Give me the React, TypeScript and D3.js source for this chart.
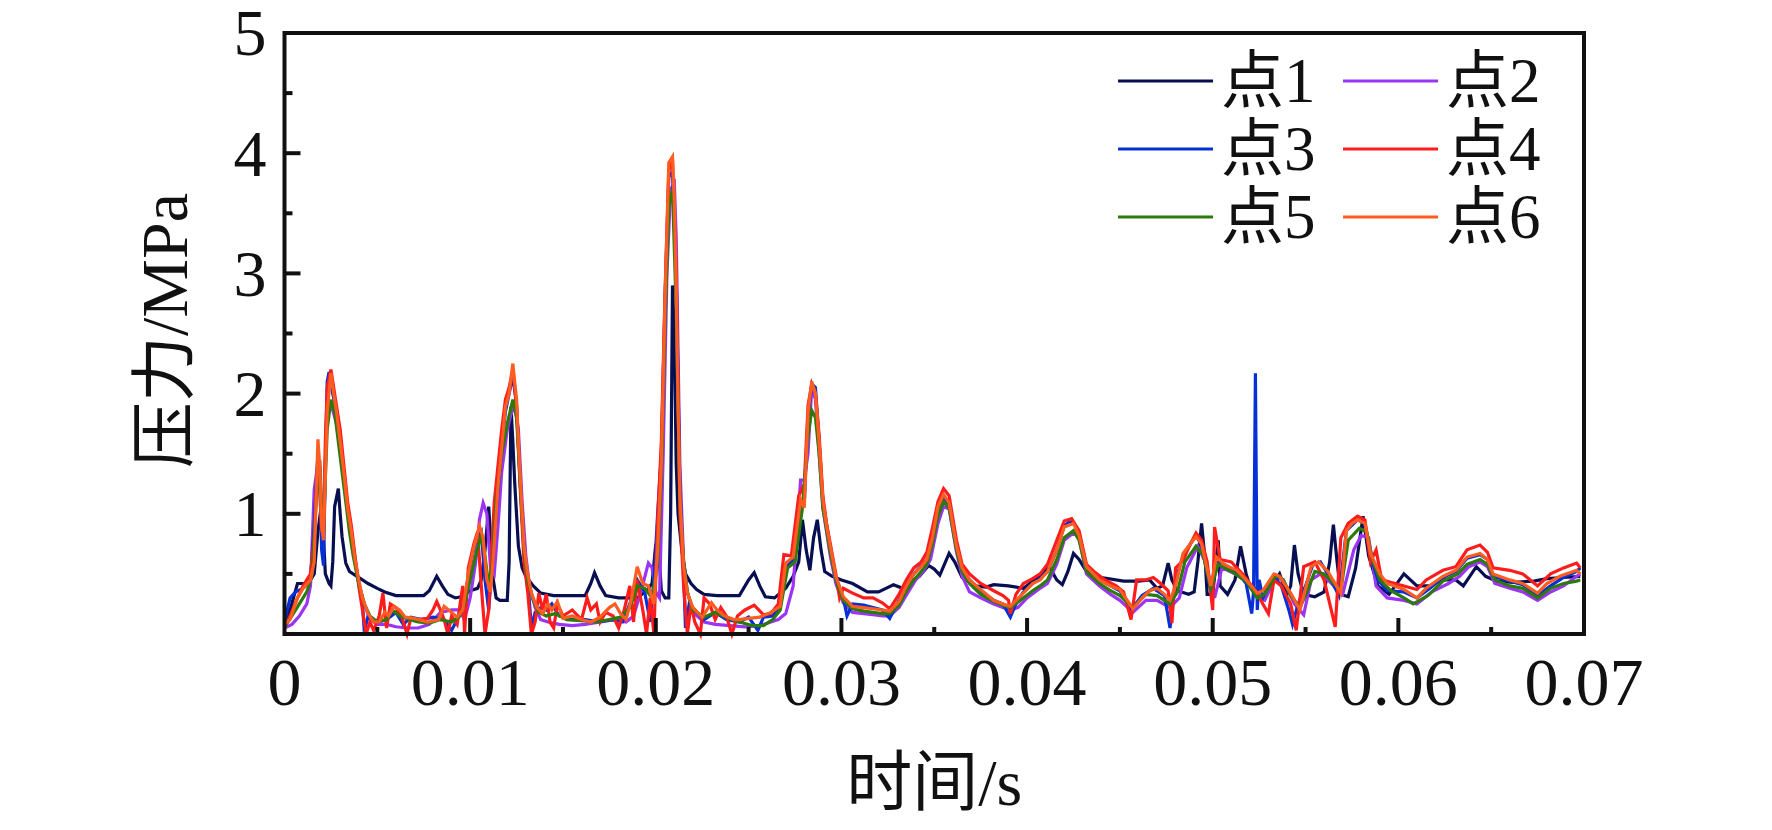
import { useEffect, useRef } from 'react'
import * as d3 from 'd3'

type Pt = [number, number]

const seriesNames = ['点1', '点2', '点3', '点4', '点5', '点6']
const seriesColors = ['#070f52', '#9b34f5', '#0530d6', '#ff1c1c', '#2b7a0b', '#ff5c22']
const xTicks = [0, 0.01, 0.02, 0.03, 0.04, 0.05, 0.06, 0.07]
const yTicks = [1, 2, 3, 4, 5]
const xTitle = '时间/s'
const yTitle = '压力/MPa'

// 点1
const p1: Pt[] = [
  [0, 0.10], [0.0003, 0.20], [0.0007, 0.42], [0.0011, 0.42], [0.0014, 0.45], [0.0016, 0.50], [0.0018, 0.85],
  [0.0020, 1.09], [0.0021, 0.80], [0.0022, 0.50], [0.0024, 0.42], [0.0025, 0.40], [0.0026, 0.60], [0.0027, 1.06],
  [0.0029, 1.21], [0.0030, 1.00], [0.0031, 0.81], [0.0033, 0.59], [0.0035, 0.52], [0.0038, 0.49], [0.0042, 0.45],
  [0.0045, 0.42], [0.0050, 0.38], [0.0054, 0.35], [0.0060, 0.32], [0.0067, 0.32], [0.0075, 0.32], [0.0078, 0.36],
  [0.0082, 0.48], [0.0085, 0.40], [0.0088, 0.33], [0.0092, 0.30], [0.0095, 0.31], [0.0100, 0.36], [0.0104, 0.38],
  [0.0106, 0.45], [0.0108, 0.70], [0.0110, 1.06], [0.0111, 0.80], [0.0112, 0.50], [0.0114, 0.30], [0.0116, 0.28],
  [0.0120, 0.28], [0.0121, 0.60], [0.0122, 1.89], [0.0123, 1.60], [0.0124, 1.26], [0.0126, 0.73], [0.0128, 0.55],
  [0.0130, 0.48], [0.0134, 0.40], [0.0138, 0.34], [0.0145, 0.32], [0.0155, 0.32], [0.0162, 0.32], [0.0165, 0.42],
  [0.0167, 0.51], [0.0170, 0.40], [0.0173, 0.32], [0.0180, 0.30], [0.0190, 0.30], [0.0195, 0.36], [0.0198, 0.42],
  [0.0200, 0.75], [0.0202, 0.60], [0.0203, 0.36], [0.0205, 0.30], [0.0207, 0.30], [0.0208, 1.00], [0.0209, 2.90],
  [0.0210, 2.50], [0.0211, 1.42], [0.0212, 1.00], [0.0214, 0.70], [0.0216, 0.50], [0.0219, 0.42], [0.0222, 0.37],
  [0.0226, 0.33], [0.0233, 0.32], [0.0240, 0.32], [0.0245, 0.32], [0.0250, 0.45], [0.0253, 0.51], [0.0256, 0.40],
  [0.0259, 0.31], [0.0264, 0.30], [0.0270, 0.38], [0.0274, 0.48], [0.0277, 0.60], [0.0279, 0.95], [0.0281, 0.70],
  [0.0283, 0.53], [0.0285, 0.80], [0.0287, 0.95], [0.0289, 0.70], [0.0291, 0.52], [0.0295, 0.48], [0.0300, 0.45],
  [0.0306, 0.42], [0.0314, 0.35], [0.0320, 0.35], [0.0324, 0.38], [0.0328, 0.41], [0.0333, 0.38], [0.0338, 0.44],
  [0.0342, 0.48], [0.0347, 0.57], [0.0350, 0.54], [0.0353, 0.49], [0.0358, 0.67], [0.0361, 0.60], [0.0365, 0.47],
  [0.0372, 0.40], [0.0378, 0.39], [0.0382, 0.41], [0.0390, 0.40], [0.0398, 0.38], [0.0404, 0.45], [0.0409, 0.52],
  [0.0412, 0.56], [0.0416, 0.45], [0.0419, 0.41], [0.0422, 0.52], [0.0425, 0.67], [0.0428, 0.62], [0.0432, 0.52],
  [0.0440, 0.47], [0.0452, 0.44], [0.0460, 0.44], [0.0466, 0.45], [0.0470, 0.38], [0.0473, 0.40], [0.0476, 0.59],
  [0.0478, 0.45], [0.0481, 0.36], [0.0487, 0.33], [0.0490, 0.35], [0.0492, 0.60], [0.0494, 0.92], [0.0496, 0.60],
  [0.0497, 0.33], [0.0500, 0.33], [0.0503, 0.78], [0.0504, 0.40], [0.0508, 0.33], [0.0512, 0.45], [0.0515, 0.73],
  [0.0518, 0.50], [0.0520, 0.40], [0.0525, 0.36], [0.0530, 0.36], [0.0536, 0.50], [0.0540, 0.33], [0.0542, 0.40],
  [0.0544, 0.74], [0.0546, 0.50], [0.0549, 0.33], [0.0555, 0.31], [0.0560, 0.35], [0.0563, 0.60], [0.0565, 0.91],
  [0.0567, 0.60], [0.0569, 0.33], [0.0573, 0.31], [0.0577, 0.55], [0.0581, 0.98], [0.0584, 0.65], [0.0589, 0.40],
  [0.0595, 0.33], [0.0603, 0.50], [0.0610, 0.40], [0.0617, 0.40], [0.0624, 0.45], [0.0631, 0.45], [0.0635, 0.40],
  [0.0642, 0.56], [0.0647, 0.48], [0.0653, 0.44], [0.0662, 0.43], [0.0673, 0.44], [0.0680, 0.46], [0.0689, 0.47],
  [0.0698, 0.48],
]

// 点2
const p2: Pt[] = [
  [0, 0.05], [0.0004, 0.08], [0.0008, 0.15], [0.0012, 0.25], [0.0014, 0.40], [0.0016, 1.20], [0.0018, 1.42],
  [0.0019, 1.40], [0.0020, 1.00], [0.0021, 0.78], [0.0023, 1.98], [0.0026, 1.86], [0.0028, 1.75], [0.0030, 1.55],
  [0.0032, 1.30], [0.0034, 1.05], [0.0036, 0.82], [0.0038, 0.60], [0.0040, 0.42], [0.0043, 0.25], [0.0046, 0.12],
  [0.0050, 0.08], [0.0055, 0.08], [0.0060, 0.06], [0.0066, 0.05], [0.0072, 0.05], [0.0078, 0.08], [0.0084, 0.18],
  [0.0090, 0.20], [0.0094, 0.20], [0.0097, 0.12], [0.0100, 0.30], [0.0103, 0.60], [0.0105, 0.95], [0.0107, 1.09],
  [0.0109, 1.00], [0.0111, 0.55], [0.0113, 0.50], [0.0115, 0.90], [0.0117, 1.35], [0.0120, 1.70], [0.0122, 1.83],
  [0.0124, 1.90], [0.0126, 1.70], [0.0128, 1.10], [0.0130, 0.65], [0.0132, 0.40], [0.0135, 0.22], [0.0138, 0.12],
  [0.0142, 0.10], [0.0148, 0.08], [0.0155, 0.07], [0.0162, 0.08], [0.0170, 0.10], [0.0178, 0.12], [0.0184, 0.10],
  [0.0188, 0.15], [0.0192, 0.35], [0.0196, 0.59], [0.0198, 0.55], [0.0200, 0.35], [0.0202, 0.30], [0.0204, 1.50],
  [0.0206, 3.00], [0.0208, 3.70], [0.0210, 3.75], [0.0211, 3.30], [0.0213, 1.40], [0.0215, 0.60], [0.0217, 0.35],
  [0.0220, 0.18], [0.0226, 0.10], [0.0232, 0.08], [0.0240, 0.07], [0.0248, 0.06], [0.0256, 0.07], [0.0262, 0.10],
  [0.0266, 0.12], [0.0270, 0.17], [0.0274, 0.40], [0.0278, 1.28], [0.0280, 1.28], [0.0282, 1.50], [0.0284, 2.05],
  [0.0286, 1.95], [0.0288, 1.50], [0.0290, 1.05], [0.0294, 0.65], [0.0297, 0.42], [0.0301, 0.26], [0.0306, 0.18],
  [0.0312, 0.17], [0.0317, 0.16], [0.0322, 0.15], [0.0326, 0.15], [0.0331, 0.22], [0.0336, 0.35], [0.0340, 0.45],
  [0.0344, 0.52], [0.0348, 0.62], [0.0352, 0.92], [0.0355, 1.06], [0.0358, 1.04], [0.0362, 0.68], [0.0365, 0.48],
  [0.0369, 0.35], [0.0375, 0.30], [0.0382, 0.25], [0.0387, 0.22], [0.0391, 0.20], [0.0395, 0.22], [0.0400, 0.30],
  [0.0407, 0.38], [0.0411, 0.42], [0.0416, 0.58], [0.0420, 0.78], [0.0425, 0.84], [0.0428, 0.80], [0.0432, 0.50],
  [0.0439, 0.40], [0.0445, 0.33], [0.0450, 0.28], [0.0457, 0.18], [0.0464, 0.28], [0.0470, 0.28], [0.0477, 0.22],
  [0.0482, 0.30], [0.0486, 0.55], [0.0492, 0.73], [0.0496, 0.60], [0.0501, 0.30], [0.0505, 0.55], [0.0512, 0.50],
  [0.0518, 0.44], [0.0524, 0.30], [0.0528, 0.28], [0.0534, 0.47], [0.0538, 0.45], [0.0544, 0.25], [0.0549, 0.16],
  [0.0553, 0.45], [0.0558, 0.50], [0.0562, 0.45], [0.0570, 0.33], [0.0576, 0.70], [0.0580, 0.82], [0.0584, 0.80],
  [0.0588, 0.40], [0.0594, 0.30], [0.0603, 0.28], [0.0610, 0.25], [0.0618, 0.35], [0.0627, 0.42], [0.0633, 0.48],
  [0.0638, 0.56], [0.0644, 0.60], [0.0648, 0.56], [0.0652, 0.42], [0.0660, 0.38], [0.0667, 0.35], [0.0675, 0.28],
  [0.0682, 0.35], [0.0689, 0.40], [0.0696, 0.48], [0.0698, 0.50],
]

// 点3
const p3: Pt[] = [
  [0, 0.10], [0.0003, 0.30], [0.0006, 0.35], [0.0010, 0.38], [0.0014, 0.45], [0.0016, 0.90], [0.0018, 1.50],
  [0.0019, 1.30], [0.0020, 0.70], [0.0021, 0.57], [0.0022, 1.40], [0.0023, 2.10], [0.0024, 2.18], [0.0026, 2.00],
  [0.0028, 1.85], [0.0030, 1.60], [0.0032, 1.32], [0.0034, 1.05], [0.0036, 0.85], [0.0038, 0.62], [0.0040, 0.43],
  [0.0042, 0.25], [0.0043, 0.02], [0.0045, 0.15], [0.0050, 0.10], [0.0055, 0.12], [0.0060, 0.18], [0.0064, 0.08],
  [0.0068, 0.14], [0.0074, 0.12], [0.0080, 0.14], [0.0086, 0.12], [0.0090, 0.03], [0.0093, 0.12], [0.0097, 0.30],
  [0.0100, 0.55], [0.0103, 0.78], [0.0106, 0.85], [0.0108, 0.45], [0.0110, 0.20], [0.0112, 0.60], [0.0115, 1.20],
  [0.0117, 1.55], [0.0119, 1.85], [0.0121, 2.00], [0.0123, 2.15], [0.0125, 1.90], [0.0127, 1.25], [0.0129, 0.70],
  [0.0131, 0.45], [0.0133, 0.05], [0.0135, 0.18], [0.0138, 0.22], [0.0141, 0.20], [0.0144, 0.25], [0.0148, 0.15],
  [0.0155, 0.12], [0.0162, 0.12], [0.0170, 0.10], [0.0176, 0.12], [0.0182, 0.10], [0.0186, 0.25], [0.0190, 0.45],
  [0.0194, 0.35], [0.0197, 0.10], [0.0199, 0.45], [0.0201, 1.00], [0.0203, 1.50], [0.0205, 2.80], [0.0207, 3.80],
  [0.0209, 3.85], [0.0211, 2.95], [0.0213, 1.20], [0.0215, 0.50], [0.0216, 0.05], [0.0218, 0.25], [0.0221, 0.20],
  [0.0226, 0.12], [0.0232, 0.18], [0.0238, 0.12], [0.0245, 0.10], [0.0250, 0.14], [0.0255, 0.03], [0.0258, 0.14],
  [0.0263, 0.15], [0.0267, 0.22], [0.0270, 0.55], [0.0274, 0.62], [0.0278, 1.10], [0.0280, 1.10], [0.0282, 1.80],
  [0.0284, 2.08], [0.0286, 2.05], [0.0288, 1.60], [0.0290, 1.10], [0.0294, 0.72], [0.0297, 0.47], [0.0301, 0.30],
  [0.0303, 0.15], [0.0306, 0.25], [0.0312, 0.24], [0.0317, 0.22], [0.0322, 0.20], [0.0326, 0.13], [0.0331, 0.28],
  [0.0335, 0.40], [0.0339, 0.50], [0.0343, 0.57], [0.0346, 0.62], [0.0349, 0.80], [0.0352, 1.05], [0.0355, 1.14],
  [0.0358, 1.08], [0.0362, 0.72], [0.0365, 0.55], [0.0369, 0.45], [0.0375, 0.36], [0.0382, 0.28], [0.0387, 0.25],
  [0.0391, 0.14], [0.0394, 0.25], [0.0398, 0.35], [0.0403, 0.42], [0.0407, 0.46], [0.0411, 0.52], [0.0416, 0.70],
  [0.0420, 0.90], [0.0424, 0.95], [0.0428, 0.84], [0.0432, 0.56], [0.0439, 0.45], [0.0445, 0.40], [0.0450, 0.36],
  [0.0456, 0.20], [0.0462, 0.32], [0.0468, 0.38], [0.0474, 0.32], [0.0477, 0.05], [0.0480, 0.45], [0.0484, 0.65],
  [0.0488, 0.75], [0.0491, 0.82], [0.0494, 0.74], [0.0499, 0.35], [0.0502, 0.62], [0.0508, 0.56], [0.0513, 0.52],
  [0.0518, 0.42], [0.0521, 0.17], [0.0522, 0.35], [0.0523, 2.17], [0.0524, 0.20], [0.0525, 0.45], [0.0527, 0.30],
  [0.0533, 0.48], [0.0537, 0.40], [0.0541, 0.20], [0.0543, 0.08], [0.0546, 0.25], [0.0550, 0.40], [0.0554, 0.58],
  [0.0558, 0.60], [0.0562, 0.50], [0.0568, 0.32], [0.0572, 0.86], [0.0578, 0.95], [0.0582, 0.92], [0.0585, 0.65],
  [0.0589, 0.45], [0.0594, 0.36], [0.0603, 0.35], [0.0610, 0.30], [0.0617, 0.38], [0.0624, 0.47], [0.0631, 0.52],
  [0.0637, 0.63], [0.0644, 0.66], [0.0648, 0.62], [0.0651, 0.48], [0.0660, 0.44], [0.0667, 0.41], [0.0675, 0.32],
  [0.0682, 0.40], [0.0689, 0.47], [0.0696, 0.52], [0.0698, 0.55],
]

// 点4
const p4: Pt[] = [
  [0, 0.05], [0.0003, 0.15], [0.0007, 0.30], [0.0010, 0.40], [0.0014, 0.50], [0.0016, 0.80], [0.0018, 1.45],
  [0.0019, 1.20], [0.0020, 0.85], [0.0021, 0.95], [0.0022, 1.60], [0.0023, 2.05], [0.0025, 2.20], [0.0026, 2.10],
  [0.0028, 1.90], [0.0030, 1.70], [0.0032, 1.40], [0.0034, 1.10], [0.0036, 0.90], [0.0038, 0.65], [0.0040, 0.40],
  [0.0042, 0.20], [0.0044, 0.00], [0.0046, 0.10], [0.0048, 0.03], [0.0051, 0.15], [0.0053, 0.34], [0.0055, 0.05],
  [0.0057, 0.25], [0.0060, 0.22], [0.0063, 0.15], [0.0066, 0.00], [0.0068, 0.13], [0.0072, 0.12], [0.0077, 0.13],
  [0.0080, 0.20], [0.0082, 0.27], [0.0084, 0.20], [0.0086, 0.12], [0.0088, 0.00], [0.0090, 0.15], [0.0093, 0.08],
  [0.0096, 0.40], [0.0097, 0.00], [0.0099, 0.55], [0.0102, 0.75], [0.0104, 0.85], [0.0106, 0.40], [0.0108, 0.00],
  [0.0110, 0.20], [0.0113, 1.10], [0.0115, 1.40], [0.0117, 1.70], [0.0119, 1.95], [0.0121, 2.05], [0.0123, 2.20],
  [0.0125, 1.90], [0.0127, 1.20], [0.0129, 0.60], [0.0131, 0.35], [0.0133, 0.00], [0.0135, 0.10], [0.0137, 0.34],
  [0.0139, 0.20], [0.0141, 0.33], [0.0143, 0.10], [0.0145, 0.05], [0.0147, 0.25], [0.0150, 0.15], [0.0155, 0.20],
  [0.0160, 0.12], [0.0163, 0.30], [0.0165, 0.20], [0.0168, 0.25], [0.0170, 0.10], [0.0173, 0.18], [0.0177, 0.15],
  [0.0180, 0.05], [0.0183, 0.20], [0.0186, 0.40], [0.0188, 0.10], [0.0190, 0.45], [0.0193, 0.20], [0.0195, 0.00],
  [0.0197, 0.30], [0.0199, 0.00], [0.0201, 0.95], [0.0203, 1.60], [0.0205, 2.85], [0.0207, 3.85], [0.0209, 3.95],
  [0.0211, 3.00], [0.0212, 2.00], [0.0213, 1.00], [0.0215, 0.40], [0.0217, 0.00], [0.0219, 0.25], [0.0221, 0.10],
  [0.0224, 0.00], [0.0226, 0.30], [0.0229, 0.25], [0.0232, 0.12], [0.0235, 0.22], [0.0238, 0.15], [0.0241, 0.00],
  [0.0244, 0.15], [0.0248, 0.20], [0.0253, 0.24], [0.0258, 0.16], [0.0262, 0.17], [0.0266, 0.25], [0.0269, 0.66],
  [0.0273, 0.65], [0.0277, 1.15], [0.0280, 1.25], [0.0282, 1.90], [0.0284, 2.08], [0.0286, 2.00], [0.0288, 1.65],
  [0.0290, 1.15], [0.0292, 0.92], [0.0294, 0.75], [0.0297, 0.50], [0.0299, 0.30], [0.0301, 0.38], [0.0306, 0.34],
  [0.0312, 0.30], [0.0317, 0.30], [0.0322, 0.26], [0.0326, 0.21], [0.0331, 0.33], [0.0335, 0.45], [0.0339, 0.55],
  [0.0343, 0.60], [0.0346, 0.68], [0.0349, 0.88], [0.0352, 1.10], [0.0355, 1.21], [0.0358, 1.15], [0.0362, 0.78],
  [0.0365, 0.58], [0.0369, 0.50], [0.0375, 0.42], [0.0382, 0.36], [0.0387, 0.32], [0.0390, 0.28], [0.0391, 0.17],
  [0.0394, 0.33], [0.0398, 0.42], [0.0403, 0.46], [0.0407, 0.50], [0.0411, 0.58], [0.0416, 0.78], [0.0420, 0.94],
  [0.0424, 0.96], [0.0428, 0.86], [0.0432, 0.58], [0.0436, 0.52], [0.0442, 0.45], [0.0448, 0.40], [0.0452, 0.35],
  [0.0456, 0.12], [0.0459, 0.45], [0.0464, 0.45], [0.0468, 0.47], [0.0472, 0.42], [0.0476, 0.36], [0.0478, 0.09],
  [0.0480, 0.55], [0.0484, 0.61], [0.0488, 0.75], [0.0491, 0.84], [0.0494, 0.78], [0.0497, 0.60], [0.0500, 0.20],
  [0.0501, 0.89], [0.0504, 0.62], [0.0510, 0.60], [0.0516, 0.50], [0.0524, 0.34], [0.0527, 0.25], [0.0530, 0.17],
  [0.0533, 0.45], [0.0537, 0.40], [0.0542, 0.25], [0.0545, 0.03], [0.0549, 0.56], [0.0555, 0.60], [0.0560, 0.45],
  [0.0566, 0.06], [0.0569, 0.80], [0.0573, 0.92], [0.0578, 0.98], [0.0582, 0.95], [0.0585, 0.60], [0.0588, 0.70],
  [0.0591, 0.45], [0.0603, 0.40], [0.0610, 0.37], [0.0615, 0.45], [0.0624, 0.53], [0.0631, 0.56], [0.0637, 0.70],
  [0.0644, 0.74], [0.0648, 0.68], [0.0651, 0.55], [0.0660, 0.53], [0.0667, 0.50], [0.0675, 0.40], [0.0682, 0.50],
  [0.0689, 0.55], [0.0696, 0.59], [0.0698, 0.55],
]

// 点5
const p5: Pt[] = [
  [0, 0.06], [0.0004, 0.15], [0.0008, 0.25], [0.0012, 0.35], [0.0015, 0.50], [0.0017, 1.10], [0.0019, 1.45],
  [0.0020, 0.95], [0.0021, 0.90], [0.0023, 1.70], [0.0025, 1.95], [0.0027, 1.85], [0.0029, 1.60], [0.0031, 1.35],
  [0.0033, 1.10], [0.0035, 0.85], [0.0037, 0.65], [0.0040, 0.42], [0.0043, 0.25], [0.0046, 0.15], [0.0050, 0.10],
  [0.0055, 0.12], [0.0058, 0.20], [0.0062, 0.15], [0.0067, 0.12], [0.0072, 0.10], [0.0078, 0.09], [0.0084, 0.12],
  [0.0090, 0.10], [0.0094, 0.14], [0.0097, 0.25], [0.0100, 0.45], [0.0103, 0.65], [0.0106, 0.82], [0.0108, 0.65],
  [0.0110, 0.40], [0.0112, 0.60], [0.0114, 1.10], [0.0117, 1.50], [0.0120, 1.75], [0.0123, 1.95], [0.0125, 1.80],
  [0.0127, 1.25], [0.0129, 0.70], [0.0131, 0.45], [0.0134, 0.28], [0.0137, 0.18], [0.0141, 0.15], [0.0146, 0.17],
  [0.0152, 0.12], [0.0160, 0.11], [0.0168, 0.10], [0.0175, 0.12], [0.0181, 0.14], [0.0186, 0.22], [0.0190, 0.40],
  [0.0194, 0.38], [0.0198, 0.30], [0.0201, 0.60], [0.0203, 1.30], [0.0205, 2.60], [0.0207, 3.55], [0.0209, 3.70],
  [0.0211, 2.70], [0.0213, 1.10], [0.0215, 0.60], [0.0217, 0.35], [0.0220, 0.20], [0.0226, 0.14], [0.0232, 0.18],
  [0.0238, 0.14], [0.0245, 0.10], [0.0252, 0.07], [0.0258, 0.07], [0.0263, 0.12], [0.0267, 0.20], [0.0271, 0.55],
  [0.0275, 0.60], [0.0279, 1.05], [0.0282, 1.65], [0.0284, 1.86], [0.0286, 1.80], [0.0288, 1.50], [0.0290, 1.05],
  [0.0294, 0.68], [0.0297, 0.45], [0.0301, 0.28], [0.0306, 0.21], [0.0312, 0.19], [0.0317, 0.18], [0.0322, 0.17],
  [0.0326, 0.17], [0.0331, 0.24], [0.0335, 0.36], [0.0339, 0.45], [0.0343, 0.52], [0.0346, 0.58], [0.0349, 0.75],
  [0.0352, 0.98], [0.0355, 1.10], [0.0358, 1.05], [0.0362, 0.70], [0.0365, 0.52], [0.0369, 0.42], [0.0375, 0.33],
  [0.0382, 0.27], [0.0387, 0.24], [0.0391, 0.22], [0.0398, 0.30], [0.0403, 0.36], [0.0407, 0.40], [0.0411, 0.45],
  [0.0416, 0.62], [0.0420, 0.80], [0.0425, 0.86], [0.0428, 0.78], [0.0432, 0.52], [0.0439, 0.42], [0.0445, 0.36],
  [0.0450, 0.32], [0.0457, 0.22], [0.0464, 0.33], [0.0470, 0.32], [0.0477, 0.25], [0.0481, 0.35], [0.0485, 0.60],
  [0.0491, 0.73], [0.0495, 0.65], [0.0499, 0.38], [0.0503, 0.58], [0.0510, 0.52], [0.0518, 0.44], [0.0524, 0.30],
  [0.0528, 0.33], [0.0534, 0.49], [0.0538, 0.45], [0.0542, 0.32], [0.0547, 0.22], [0.0551, 0.36], [0.0555, 0.52],
  [0.0560, 0.50], [0.0569, 0.36], [0.0573, 0.78], [0.0579, 0.88], [0.0583, 0.85], [0.0586, 0.62], [0.0590, 0.45],
  [0.0596, 0.36], [0.0603, 0.30], [0.0608, 0.25], [0.0616, 0.32], [0.0624, 0.44], [0.0632, 0.50], [0.0637, 0.58],
  [0.0644, 0.62], [0.0648, 0.58], [0.0652, 0.45], [0.0660, 0.40], [0.0667, 0.38], [0.0675, 0.30], [0.0682, 0.38],
  [0.0689, 0.42], [0.0696, 0.44], [0.0698, 0.45],
]

// 点6
const p6: Pt[] = [
  [0, 0.08], [0.0003, 0.12], [0.0007, 0.30], [0.0010, 0.38], [0.0014, 0.45], [0.0016, 0.60], [0.0018, 1.62],
  [0.0019, 1.40], [0.0020, 0.90], [0.0021, 0.78], [0.0022, 1.30], [0.0023, 1.85], [0.0025, 2.17], [0.0026, 2.05],
  [0.0028, 1.85], [0.0030, 1.60], [0.0032, 1.34], [0.0034, 1.05], [0.0036, 0.85], [0.0038, 0.62], [0.0040, 0.45],
  [0.0042, 0.30], [0.0045, 0.17], [0.0048, 0.10], [0.0051, 0.10], [0.0054, 0.18], [0.0056, 0.15], [0.0059, 0.23],
  [0.0062, 0.20], [0.0065, 0.14], [0.0070, 0.13], [0.0077, 0.10], [0.0083, 0.12], [0.0086, 0.23], [0.0090, 0.18],
  [0.0093, 0.14], [0.0096, 0.20], [0.0099, 0.50], [0.0102, 0.72], [0.0105, 0.90], [0.0107, 0.80], [0.0109, 0.45],
  [0.0111, 0.35], [0.0113, 0.75], [0.0115, 1.23], [0.0117, 1.55], [0.0119, 1.89], [0.0121, 2.00], [0.0123, 2.25],
  [0.0125, 1.95], [0.0126, 1.60], [0.0127, 1.30], [0.0129, 0.73], [0.0131, 0.50], [0.0133, 0.34], [0.0136, 0.22],
  [0.0139, 0.17], [0.0142, 0.25], [0.0144, 0.20], [0.0147, 0.27], [0.0150, 0.13], [0.0155, 0.15], [0.0160, 0.12],
  [0.0165, 0.10], [0.0170, 0.14], [0.0175, 0.22], [0.0178, 0.25], [0.0181, 0.17], [0.0184, 0.12], [0.0187, 0.30],
  [0.0190, 0.56], [0.0193, 0.42], [0.0196, 0.40], [0.0199, 0.25], [0.0201, 0.70], [0.0203, 1.42], [0.0205, 2.80],
  [0.0207, 3.92], [0.0209, 3.97], [0.0210, 3.60], [0.0211, 2.89], [0.0212, 1.90], [0.0213, 1.14], [0.0215, 0.56],
  [0.0217, 0.34], [0.0220, 0.22], [0.0225, 0.14], [0.0230, 0.26], [0.0233, 0.20], [0.0237, 0.15], [0.0242, 0.12],
  [0.0245, 0.12], [0.0250, 0.13], [0.0256, 0.14], [0.0262, 0.18], [0.0267, 0.23], [0.0270, 0.59], [0.0274, 0.64],
  [0.0278, 1.12], [0.0280, 1.05], [0.0282, 1.84], [0.0284, 2.10], [0.0286, 2.00], [0.0288, 1.59], [0.0290, 1.12],
  [0.0292, 0.90], [0.0294, 0.73], [0.0297, 0.48], [0.0301, 0.31], [0.0306, 0.23], [0.0312, 0.22], [0.0317, 0.21],
  [0.0322, 0.20], [0.0326, 0.19], [0.0331, 0.27], [0.0335, 0.40], [0.0339, 0.50], [0.0343, 0.56], [0.0346, 0.62],
  [0.0349, 0.80], [0.0352, 1.06], [0.0355, 1.16], [0.0358, 1.09], [0.0362, 0.73], [0.0365, 0.55], [0.0369, 0.45],
  [0.0375, 0.37], [0.0382, 0.28], [0.0387, 0.25], [0.0391, 0.23], [0.0398, 0.34], [0.0403, 0.42], [0.0407, 0.45],
  [0.0411, 0.52], [0.0416, 0.70], [0.0420, 0.89], [0.0425, 0.92], [0.0428, 0.82], [0.0432, 0.56], [0.0439, 0.45],
  [0.0445, 0.40], [0.0450, 0.37], [0.0457, 0.21], [0.0462, 0.30], [0.0466, 0.36], [0.0470, 0.38], [0.0474, 0.33],
  [0.0477, 0.28], [0.0480, 0.40], [0.0484, 0.67], [0.0488, 0.75], [0.0491, 0.81], [0.0494, 0.75], [0.0499, 0.40],
  [0.0502, 0.64], [0.0506, 0.58], [0.0510, 0.55], [0.0513, 0.53], [0.0518, 0.45], [0.0524, 0.34], [0.0527, 0.36],
  [0.0533, 0.50], [0.0536, 0.48], [0.0542, 0.34], [0.0547, 0.20], [0.0550, 0.38], [0.0553, 0.56], [0.0557, 0.60],
  [0.0562, 0.52], [0.0569, 0.34], [0.0572, 0.86], [0.0575, 0.92], [0.0578, 0.95], [0.0582, 0.92], [0.0585, 0.67],
  [0.0590, 0.50], [0.0594, 0.42], [0.0603, 0.37], [0.0610, 0.30], [0.0615, 0.38], [0.0624, 0.48], [0.0631, 0.53],
  [0.0637, 0.64], [0.0644, 0.67], [0.0648, 0.62], [0.0651, 0.50], [0.0660, 0.45], [0.0667, 0.42], [0.0675, 0.34],
  [0.0680, 0.42], [0.0687, 0.48], [0.0696, 0.53], [0.0698, 0.50],
]

const allSeries = [p1, p2, p3, p4, p5, p6]

const FONT = "'Liberation Serif', 'Times New Roman', 'Noto Sans CJK SC', serif"

export default function App() {
  const ref = useRef<SVGSVGElement>(null)

  useEffect(() => {
    if (!ref.current) return
    document.body.style.margin = '0'

    const el = ref.current
    const width = 1772
    const height = 830
    const margin = { top: 33, right: 188, bottom: 196, left: 284.5 }
    const iW = width - margin.left - margin.right
    const iH = height - margin.top - margin.bottom

    d3.select(el).selectAll('*').remove()

    const svg = d3.select(el)
      .attr('width', width)
      .attr('height', height)
      .append('g')
      .attr('transform', `translate(${margin.left},${margin.top})`)

    const x = d3.scaleLinear().domain([0, 0.07]).range([0, iW])
    const y = d3.scaleLinear().domain([0, 5]).range([iH, 0])

    // lines
    const line = d3.line<Pt>().x(d => x(d[0])).y(d => y(d[1]))
    allSeries.forEach((s, i) => {
      svg.append('path')
        .datum(s)
        .attr('fill', 'none')
        .attr('stroke', seriesColors[i])
        .attr('stroke-width', 3.2)
        .attr('stroke-linejoin', 'miter')
        .attr('d', line)
    })

    // frame
    svg.append('rect')
      .attr('width', iW).attr('height', iH)
      .attr('fill', 'none').attr('stroke', '#111').attr('stroke-width', 4)

    // bottom ticks (inside)
    const xMinor = d3.range(0.005, 0.07, 0.01)
    svg.append('g')
      .selectAll('line')
      .data(xTicks.slice(1, -1))
      .join('line')
      .attr('x1', d => x(d)).attr('x2', d => x(d))
      .attr('y1', iH).attr('y2', iH - 16)
      .attr('stroke', '#111').attr('stroke-width', 4)
    svg.append('g')
      .selectAll('line')
      .data(xMinor)
      .join('line')
      .attr('x1', d => x(d)).attr('x2', d => x(d))
      .attr('y1', iH).attr('y2', iH - 7)
      .attr('stroke', '#111').attr('stroke-width', 4)

    // left ticks (inside)
    const yMinor = d3.range(0.5, 5, 1)
    svg.append('g')
      .selectAll('line')
      .data(yTicks.slice(0, -1))
      .join('line')
      .attr('x1', 0).attr('x2', 16)
      .attr('y1', d => y(d)).attr('y2', d => y(d))
      .attr('stroke', '#111').attr('stroke-width', 4)
    svg.append('g')
      .selectAll('line')
      .data(yMinor)
      .join('line')
      .attr('x1', 0).attr('x2', 8)
      .attr('y1', d => y(d)).attr('y2', d => y(d))
      .attr('stroke', '#111').attr('stroke-width', 4)

    // tick labels
    svg.append('g')
      .selectAll('text')
      .data(xTicks)
      .join('text')
      .attr('x', d => x(d))
      .attr('y', iH + 71)
      .attr('text-anchor', 'middle')
      .attr('font-family', FONT)
      .attr('font-size', 68)
      .attr('fill', '#111')
      .text(d => d3.format('')(+d.toFixed(2)))

    svg.append('g')
      .selectAll('text')
      .data(yTicks)
      .join('text')
      .attr('x', -18)
      .attr('y', d => y(d))
      .attr('dy', '0.34em')
      .attr('text-anchor', 'end')
      .attr('font-family', FONT)
      .attr('font-size', 66)
      .attr('fill', '#111')
      .text(d => d)

    // axis titles
    svg.append('text')
      .attr('x', iW / 2)
      .attr('y', iH + 171)
      .attr('text-anchor', 'middle')
      .attr('font-family', FONT)
      .attr('font-size', 66)
      .attr('fill', '#111')
      .text(xTitle)

    svg.append('text')
      .attr('transform', `translate(${-98},${iH / 2 - 3}) rotate(-90)`)
      .attr('text-anchor', 'middle')
      .attr('font-family', FONT)
      .attr('font-size', 66)
      .attr('fill', '#111')
      .text(yTitle)

    // legend, 2 columns x 3 rows
    const legend = svg.append('g').attr('transform', `translate(${x(0.0449)},${y(4.6)})`)
    seriesNames.forEach((name, i) => {
      const col = i % 2
      const row = Math.floor(i / 2)
      const g = legend.append('g').attr('transform', `translate(${col * 225},${row * 68})`)
      g.append('line')
        .attr('x1', 0).attr('x2', 95)
        .attr('y1', 0).attr('y2', 0)
        .attr('stroke', seriesColors[i]).attr('stroke-width', 3)
      g.append('text')
        .attr('x', 103)
        .attr('y', 21)
        .attr('font-family', FONT)
        .attr('font-size', 63)
        .attr('fill', '#111')
        .text(name)
    })
  }, [])

  return <svg ref={ref} style={{ display: 'block' }} />
}
